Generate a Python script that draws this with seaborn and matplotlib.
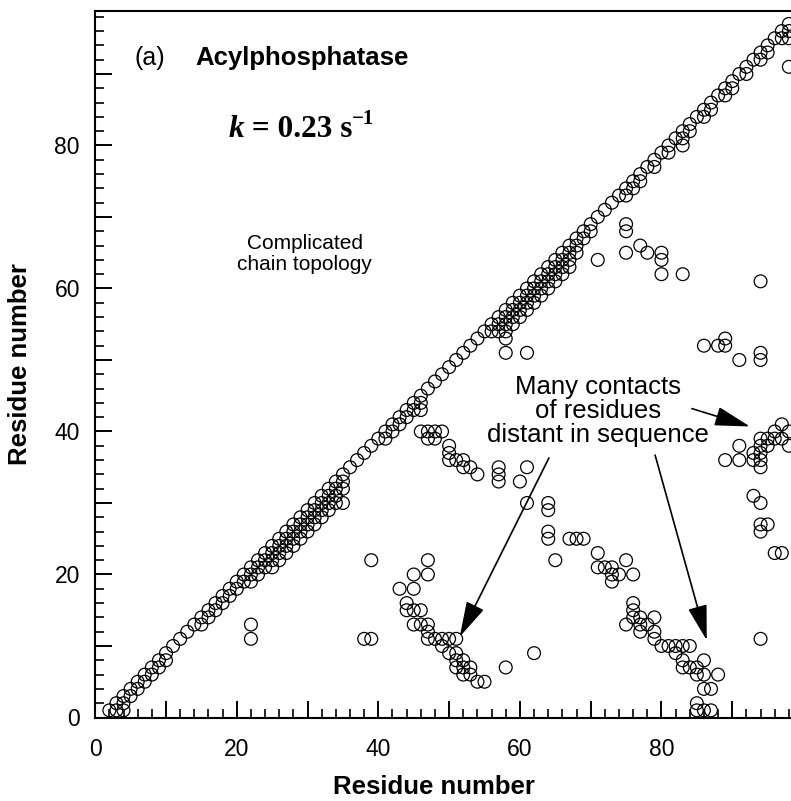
import matplotlib
matplotlib.use("Agg")
import matplotlib.pyplot as plt
import pandas as pd
import seaborn as sns
from matplotlib.ticker import MultipleLocator, FuncFormatter

# Contacts between residues i (x) and j (y), j < i
# neighbouring residues along the chain (i, i-1)
chain_i = [2, 3, 4, 5, 6, 7, 8, 9, 10, 11, 12, 13, 14, 15, 16, 17, 18, 19, 20,
           21, 22, 23, 24, 25, 26, 27, 28, 29, 30, 31, 32, 33, 34, 35, 36, 37, 38,
           39, 40, 41, 42, 43, 44, 45, 46, 47, 48, 49, 50, 51, 52, 53, 54, 55, 56,
           57, 58, 59, 60, 61, 62, 63, 64, 65, 66, 67, 68, 69, 70, 71, 72, 73, 74,
           75, 76, 77, 78, 79, 80, 81, 82, 83, 84, 85, 86, 87, 88, 89, 90, 91, 92,
           93, 94, 95, 96, 97, 98]
chain_j = [1, 2, 3, 4, 5, 6, 7, 8, 9, 10, 11, 12, 13, 14, 15, 16, 17, 18, 19,
           20, 21, 22, 23, 24, 25, 26, 27, 28, 29, 30, 31, 32, 33, 34, 35, 36, 37,
           38, 39, 40, 41, 42, 43, 44, 45, 46, 47, 48, 49, 50, 51, 52, 53, 54, 55,
           56, 57, 58, 59, 60, 61, 62, 63, 64, 65, 66, 67, 68, 69, 70, 71, 72, 73,
           74, 75, 76, 77, 78, 79, 80, 81, 82, 83, 84, 85, 86, 87, 88, 89, 90, 91,
           92, 93, 94, 95, 96, 97]

# short-range contacts (separation 2-5)
short_i = [3, 4, 5, 6, 7, 8, 9, 10, 15, 16, 17, 18, 19, 20, 21, 22, 23, 24, 25,
           26, 27, 28, 29, 30, 31, 32, 33, 34, 35, 41, 42, 43, 44, 45, 46, 56, 57,
           58, 59, 60, 61, 62, 63, 64, 65, 66, 67, 68, 69, 70, 75, 76, 77, 79, 81,
           83, 84, 86, 87, 89, 90, 92, 94, 95, 97, 98,
           4, 22, 23, 24, 25, 26, 27, 28, 29, 30, 31, 32, 33, 34, 35, 46, 57, 58,
           59, 60, 61, 62, 63, 64, 65, 66, 67, 68, 83, 98,
           25, 26, 27, 28, 29, 30, 31, 32, 33, 34, 58, 59, 60, 61, 62, 63, 64, 65,
           66, 67,
           35, 58]
short_j = [1, 2, 3, 4, 5, 6, 7, 8, 13, 14, 15, 16, 17, 18, 19, 20, 21, 22, 23,
           24, 25, 26, 27, 28, 29, 30, 31, 32, 33, 39, 40, 41, 42, 43, 44, 54, 55,
           56, 57, 58, 59, 60, 61, 62, 63, 64, 65, 66, 67, 68, 73, 74, 75, 77, 79,
           81, 82, 84, 85, 87, 88, 90, 92, 93, 95, 96,
           1, 19, 20, 21, 22, 23, 24, 25, 26, 27, 28, 29, 30, 31, 32, 43, 54, 55,
           56, 57, 58, 59, 60, 61, 62, 63, 64, 65, 80, 95,
           21, 22, 23, 24, 25, 26, 27, 28, 29, 30, 54, 55, 56, 57, 58, 59, 60, 61,
           62, 63,
           30, 53]

# long-range contacts
long_i = [22, 22, 38, 39, 39,
          43, 44, 44, 45, 45, 45, 45, 46, 46, 47, 47, 47, 47, 47, 48, 49, 49, 50,
          50, 51, 51, 51, 51, 52, 52, 52, 53, 53, 54, 55, 58, 62,
          46, 47, 48, 49, 47, 48, 50, 50, 50, 51, 52, 52, 53, 54,
          57, 57, 57, 60, 61, 61, 64, 64, 64, 64, 65, 67, 68, 69, 71, 71, 72, 73,
          73, 73, 74, 75, 76,
          76, 76, 76, 77, 75, 77, 77, 78, 79, 79, 79, 80, 81, 82, 83, 84, 82, 83,
          83, 84, 85, 86, 85, 86, 88, 86, 87, 85, 85, 86, 87, 94,
          58, 61, 71, 75, 75, 75, 77, 78, 80, 80, 80, 83,
          86, 88, 89, 89, 91, 94, 94, 94,
          89, 91, 91, 93, 93, 94, 94, 94, 94, 94, 95, 95, 96, 96, 97, 97, 98, 98,
          93, 94, 94, 95, 94, 96, 97, 98]
long_j = [13, 11, 11, 11, 22,
          18, 16, 15, 20, 18, 15, 13, 15, 13, 22, 20, 13, 12, 11, 11, 11, 10, 11,
          9, 11, 9, 8, 7, 8, 7, 6, 7, 6, 5, 5, 7, 9,
          40, 40, 40, 40, 39, 39, 38, 37, 36, 36, 36, 35, 35, 34,
          35, 34, 33, 33, 35, 30, 30, 29, 26, 25, 22, 25, 25, 25, 23, 21, 21, 21,
          20, 19, 20, 22, 20,
          16, 15, 14, 14, 13, 13, 12, 13, 14, 12, 11, 10, 10, 10, 10, 10, 9, 8,
          7, 7, 7, 8, 6, 6, 6, 4, 4, 2, 1, 1, 1, 11,
          51, 51, 64, 69, 68, 65, 66, 65, 65, 64, 62, 62,
          52, 52, 53, 52, 50, 51, 50, 61,
          36, 36, 38, 37, 36, 39, 38, 37, 36, 35, 39, 38, 39, 40, 39, 41, 40, 38,
          31, 30, 27, 27, 26, 23, 23, 91]

contacts = pd.DataFrame({
    "res_i": chain_i + short_i + long_i,
    "res_j": chain_j + short_j + long_j,
})

sns.set_style("ticks")
plt.rcParams["font.family"] = ["Liberation Sans", "DejaVu Sans"]
plt.rcParams["text.color"] = "black"
plt.rcParams["axes.labelcolor"] = "black"
plt.rcParams["xtick.color"] = "black"
plt.rcParams["ytick.color"] = "black"

fig = plt.figure(figsize=(7.91, 8.01), dpi=100)
ax = fig.add_axes([95.2 / 791, (801 - 717.5) / 801,
                   (791 - 95.2) / 791, (717.5 - 10.7) / 801])

sns.scatterplot(data=contacts, x="res_i", y="res_j", ax=ax, marker="o",
                s=85, linewidth=0.9, legend=False)
pts = ax.collections[0]
pts.set_facecolor("none")
pts.set_edgecolor("black")

ax.set_xlim(0, 98.3)
ax.set_ylim(0, 98.85)

label_every_20 = FuncFormatter(lambda v, p: f"{int(round(v))}" if round(v) % 20 == 0 else "")
for axis in (ax.xaxis, ax.yaxis):
    axis.set_major_locator(MultipleLocator(10))
    axis.set_minor_locator(MultipleLocator(2))
    axis.set_major_formatter(label_every_20)

ax.tick_params(which="major", direction="in", length=12, width=1.4,
               labelsize=16.5, colors="black", top=False, right=False)
ax.tick_params(which="minor", direction="in", length=6.5, width=1.2,
               colors="black", top=False, right=False)
ax.tick_params(axis="x", which="major", pad=15)
ax.tick_params(axis="y", which="major", pad=11)

for side in ("left", "bottom", "top"):
    ax.spines[side].set_linewidth(1.5)
    ax.spines[side].set_color("black")
ax.spines["right"].set_visible(False)

ax.set_xlabel("Residue number", fontsize=18.5, fontweight="bold", color="black")
ax.set_ylabel("Residue number", fontsize=18.5, fontweight="bold", color="black")
ax.xaxis.label.set_va("center")
ax.yaxis.label.set_va("center")
ax.xaxis.set_label_coords(0.487, -0.098)
ax.yaxis.set_label_coords(-0.108, 0.5)

# panel title
ax.text(5.6, 91.3, "(a)", fontsize=18, va="baseline")
ax.text(14.1, 91.3, "Acylphosphatase", fontsize=18.5, fontweight="bold", va="baseline")

# folding rate
serif = ["Liberation Serif", "DejaVu Serif"]
t_k = ax.text(18.8, 81.2, "k", family=serif, fontsize=22.5, fontweight="bold",
              fontstyle="italic", va="baseline")
t_val = ax.annotate(" = 0.23 s", xy=(1, 0), xycoords=t_k, va="bottom", ha="left",
                    family=serif, fontsize=22.5, fontweight="bold")
ax.annotate("\u22121", xy=(1, 0.5), xycoords=t_val, va="bottom", ha="left",
            family=serif, fontsize=15, fontweight="bold")

ax.text(29.6, 64.8, "Complicated\nchain topology", fontsize=15, ha="center",
        va="center", linespacing=1.1)
ax.text(71.0, 42.8, "Many contacts\nof residues\ndistant in sequence", fontsize=18.5,
        ha="center", va="center", linespacing=1.0)

arrow_style = dict(arrowstyle="-|>,head_length=2.2,head_width=0.6", color="black",
                   lw=1.2, mutation_scale=10, shrinkA=0, shrinkB=0)
ax.annotate("", xy=(92.5, 40.7), xytext=(84.3, 43.2), arrowprops=arrow_style)
ax.annotate("", xy=(51.5, 11.3), xytext=(64.1, 36.3), arrowprops=arrow_style)
ax.annotate("", xy=(86.4, 10.8), xytext=(79.1, 36.7), arrowprops=arrow_style)

fig.savefig("out.png", dpi=100)
